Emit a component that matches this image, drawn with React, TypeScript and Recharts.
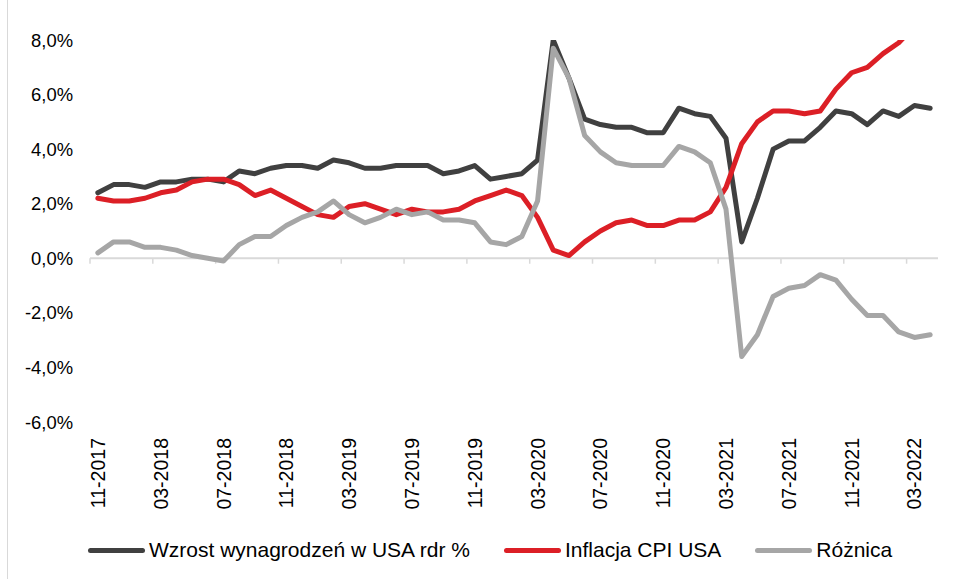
import { LineChart, Line, XAxis, YAxis, ReferenceLine } from 'recharts'

const BLACK = '#404040'
const RED = '#dc1f26'
const GREY = '#a6a6a6'
const AXIS = '#d9d9d9'
const FONT = '"Liberation Sans", Arial, sans-serif'

const months = [
  '11-2017', '12-2017', '01-2018', '02-2018', '03-2018', '04-2018', '05-2018', '06-2018', '07-2018',
  '08-2018', '09-2018', '10-2018', '11-2018', '12-2018', '01-2019', '02-2019', '03-2019', '04-2019',
  '05-2019', '06-2019', '07-2019', '08-2019', '09-2019', '10-2019', '11-2019', '12-2019', '01-2020',
  '02-2020', '03-2020', '04-2020', '05-2020', '06-2020', '07-2020', '08-2020', '09-2020', '10-2020',
  '11-2020', '12-2020', '01-2021', '02-2021', '03-2021', '04-2021', '05-2021', '06-2021', '07-2021',
  '08-2021', '09-2021', '10-2021', '11-2021', '12-2021', '01-2022', '02-2022', '03-2022', '04-2022',
]

const tickMonths = [
  '11-2017', '03-2018', '07-2018', '11-2018', '03-2019', '07-2019', '11-2019',
  '03-2020', '07-2020', '11-2020', '03-2021', '07-2021', '11-2021', '03-2022',
]

// wzrost wynagrodzeń r/r
const wages = [
  2.4, 2.7, 2.7, 2.6, 2.8, 2.8, 2.9, 2.9, 2.8, 3.2, 3.1, 3.3, 3.4, 3.4, 3.3, 3.6, 3.5, 3.3,
  3.3, 3.4, 3.4, 3.4, 3.1, 3.2, 3.4, 2.9, 3.0, 3.1, 3.6, 8.0, 6.6, 5.1, 4.9, 4.8, 4.8, 4.6,
  4.6, 5.5, 5.3, 5.2, 4.4, 0.6, 2.2, 4.0, 4.3, 4.3, 4.8, 5.4, 5.3, 4.9, 5.4, 5.2, 5.6, 5.5,
]

// CPI r/r
const cpi = [
  2.2, 2.1, 2.1, 2.2, 2.4, 2.5, 2.8, 2.9, 2.9, 2.7, 2.3, 2.5, 2.2, 1.9, 1.6, 1.5, 1.9, 2.0,
  1.8, 1.6, 1.8, 1.7, 1.7, 1.8, 2.1, 2.3, 2.5, 2.3, 1.5, 0.3, 0.1, 0.6, 1.0, 1.3, 1.4, 1.2,
  1.2, 1.4, 1.4, 1.7, 2.6, 4.2, 5.0, 5.4, 5.4, 5.3, 5.4, 6.2, 6.8, 7.0, 7.5, 7.9, 8.5, 8.3,
]

const diff = [
  0.2, 0.6, 0.6, 0.4, 0.4, 0.3, 0.1, 0.0, -0.1, 0.5, 0.8, 0.8, 1.2, 1.5, 1.7, 2.1, 1.6, 1.3,
  1.5, 1.8, 1.6, 1.7, 1.4, 1.4, 1.3, 0.6, 0.5, 0.8, 2.1, 7.7, 6.6, 4.5, 3.9, 3.5, 3.4, 3.4,
  3.4, 4.1, 3.9, 3.5, 1.8, -3.6, -2.8, -1.4, -1.1, -1.0, -0.6, -0.8, -1.5, -2.1, -2.1, -2.7, -2.9, -2.8,
]

const yTicks = [-6, -4, -2, 0, 2, 4, 6, 8]

// punkt w środku miesiąca, kreski osi na granicach
const rows = months.map((m, i) => ({ month: m, pos: i + 0.5, wages: wages[i], cpi: cpi[i], diff: diff[i] }))
const labelPos = tickMonths.map((m) => months.indexOf(m) + 0.5)
const boundaryPos = tickMonths.map((m) => months.indexOf(m))

const fmtPct = (v: number) => `${v.toFixed(1).replace('.', ',')}%`

function MonthTick({ x, y, payload }: any) {
  const label = months[Math.floor(payload.value)]
  return (
    <g transform={`translate(${x},${y})`}>
      <text transform="rotate(-90)" textAnchor="end" dy="0.36em" fontSize={19.5} fill="#000" fontFamily={FONT}>
        {label}
      </text>
    </g>
  )
}

const legendItems = [
  { name: 'Wzrost wynagrodzeń w USA rdr %', color: BLACK },
  { name: 'Inflacja CPI USA', color: RED },
  { name: 'Różnica', color: GREY },
]

export default function App() {
  return (
    <div style={{ position: 'absolute', left: 0, top: 0, width: 955, height: 579, background: '#fff', fontFamily: FONT }}>
      <div style={{ position: 'absolute', left: 7, top: 0, width: 1, height: 579, background: AXIS }} />
      <LineChart width={955} height={579} data={rows} margin={{ top: 40, right: 17, left: 0, bottom: 0 }}>
        <XAxis
          dataKey="pos"
          type="number"
          domain={[0, months.length]}
          ticks={labelPos}
          interval={0}
          axisLine={false}
          tickLine={false}
          tickSize={6}
          tickMargin={10}
          height={157}
          tick={<MonthTick />}
        />
        <YAxis
          width={90}
          domain={[-6, 8]}
          ticks={yTicks}
          allowDataOverflow
          axisLine={false}
          tickLine={false}
          tickSize={6}
          tickMargin={11}
          tickFormatter={fmtPct}
          tick={{ fontSize: 18.4, fill: '#000', fontFamily: FONT }}
        />
        <ReferenceLine y={0} stroke={AXIS} strokeWidth={2} />
        {boundaryPos.map((b) => (
          <ReferenceLine key={b} segment={[{ x: b, y: 0 }, { x: b, y: -0.2 }]} stroke={AXIS} strokeWidth={1.5} />
        ))}
        <Line type="linear" dataKey="wages" stroke={BLACK} strokeWidth={5} dot={false} strokeLinejoin="round" strokeLinecap="round" isAnimationActive={false} />
        <Line type="linear" dataKey="cpi" stroke={RED} strokeWidth={5} dot={false} strokeLinejoin="round" strokeLinecap="round" isAnimationActive={false} />
        <Line type="linear" dataKey="diff" stroke={GREY} strokeWidth={5} dot={false} strokeLinejoin="round" strokeLinecap="round" isAnimationActive={false} />
      </LineChart>
      <div style={{ position: 'absolute', left: 88, top: 536, height: 28, display: 'flex', alignItems: 'center', gap: 34, fontSize: 21, color: '#000', whiteSpace: 'nowrap' }}>
        {legendItems.map((it) => (
          <div key={it.name} style={{ display: 'flex', alignItems: 'center' }}>
            <span style={{ display: 'inline-block', width: 57, height: 5, borderRadius: 3, background: it.color, marginRight: 4 }} />
            <span>{it.name}</span>
          </div>
        ))}
      </div>
    </div>
  )
}
